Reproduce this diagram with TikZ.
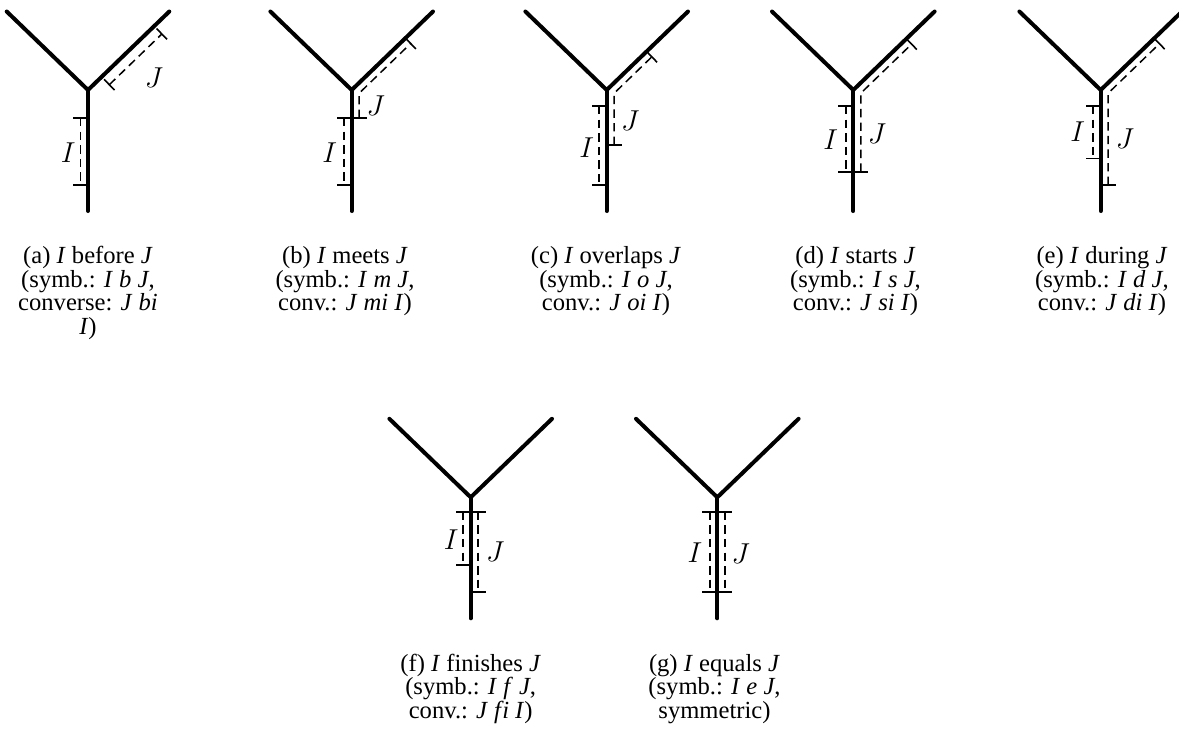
\documentclass[tikz,border=0pt]{standalone}
\usepackage{fontspec}
\setmainfont{Liberation Serif}
\usetikzlibrary{calc}
\newcommand\myit[1]{\textit{#1}}
\newcommand\drawY[3]{%
  \coordinate (#1) at (#2,#3);
  \coordinate (#1L) at ($(#1)+(-81.3,-78.5)$);
  \coordinate (#1R) at ($(#1)+(81.3,-78.5)$);
  \coordinate (#1B) at ($(#1)+(0,121)$);
  \draw[ybranch] (#1L) -- (#1) -- (#1R);
  \draw[ybranch] (#1) -- (#1B);
}
% interval on trunk: junction, offset (signed), d1 (top), d2 (bottom)
\newcommand\trunkint[4]{%
  \draw[dsh] ($(#1)+(#2,#3)$) -- ($(#1)+(#2,#4)$);
  \draw[tk] ($(#1)+(0,#3)$) -- ($(#1)+(2*#2,#3)$);
  \draw[tk] ($(#1)+(0,#4)$) -- ($(#1)+(2*#2,#4)$);
}
% interval from trunk (depth #2) up the right arm (distance #3), offset 7.5
\newcommand\bentint[3]{%
  \draw[dsh] ($(#1)+(7.5,#2)$) -- ($(#1)+(7.5,3.19)$) -- ($(#1)+#3*(u)+7.5*(n)$);
  \draw[tk] ($(#1)+(0,#2)$) -- ($(#1)+(15,#2)$);
  \draw[tk] ($(#1)+#3*(u)$) -- ($(#1)+#3*(u)+15*(n)$);
}
\begin{document}
\begin{tikzpicture}[x=0.5pt,y=-0.5pt,
  ybranch/.style={line width=2pt, line cap=round, line join=miter},
  dsh/.style={line width=0.75pt, dash pattern=on 4.2pt off 2.6pt},
  tk/.style={line width=0.8pt},
  lab/.style={inner sep=0pt, font=\fontsize{13.5}{16}\selectfont},
  captxt/.style={inner sep=0pt, anchor=base, font=\fontsize{12.3}{11.75}\selectfont}]
\useasboundingbox (0,0) rectangle (1179,740);
\coordinate (u) at (0.7195,-0.6947);
\coordinate (n) at (0.6947,0.7195);

% (a) before
\drawY{a}{88}{90}
\trunkint{a}{-7.5}{28}{95}
\draw[dsh] ($(a)+19*(u)+11*(n)$) -- ($(a)+92*(u)+11*(n)$);
\draw[tk] ($(a)+19*(u)+3.5*(n)$) -- ($(a)+19*(u)+18.5*(n)$);
\draw[tk] ($(a)+92*(u)+3.5*(n)$) -- ($(a)+92*(u)+18.5*(n)$);
\node[lab] (aI) at (68.3,152.3) {$I$};
\node[lab] (aJ) at (154,77.3) {$J$};

% (b) meets
\drawY{b}{351.7}{90}
\trunkint{b}{-7.5}{28}{95}
\bentint{b}{28}{74.7}
\node[lab] (bI) at (329.7,152.3) {$I$};
\node[lab] (bJ) at (375.7,105.7) {$J$};

% (c) overlaps
\drawY{c}{606.7}{90}
\trunkint{c}{-7.5}{16}{95}
\bentint{c}{55}{55.5}
\node[lab] (cI) at (586.7,147.3) {$I$};
\node[lab] (cJ) at (630.3,120.7) {$J$};

% (d) starts
\drawY{d}{853.3}{90}
\trunkint{d}{-7.5}{16}{81.7}
\bentint{d}{81.7}{73.8}
\node[lab] (dI) at (830.7,139.3) {$I$};
\node[lab] (dJ) at (877,133.3) {$J$};

% (e) during
\drawY{e}{1100.7}{90}
\trunkint{e}{-7.5}{16}{68.3}
\bentint{e}{95}{74.4}
\node[lab] (eI) at (1077.7,131.7) {$I$};
\node[lab] (eJ) at (1125,139) {$J$};

% (f) finishes
\drawY{f}{470.7}{497.3}
\trunkint{f}{-7.5}{14.4}{67.7}
\trunkint{f}{7.5}{14.4}{94.4}
\node[lab] (fI) at (451.3,539.3) {$I$};
\node[lab] (fJ) at (495.3,552) {$J$};

% (g) equals
\drawY{g}{717.3}{497.3}
\trunkint{g}{-7.5}{14.4}{94.4}
\trunkint{g}{7.5}{14.4}{94.4}
\node[lab] (gI) at (695,552.3) {$I$};
\node[lab] (gJ) at (740.7,553.7) {$J$};

% captions
\node[captxt] (ca1) at (88,263.3) {(a) \myit{I} before \myit{J}};
\node[captxt] (ca2) at (88,287) {(symb.: \myit{I} \myit{b} \myit{J},};
\node[captxt] (ca3) at (88,310.7) {converse: \myit{J} \myit{bi}};
\node[captxt] (ca4) at (88,334.4) {\myit{I})};

\node[captxt] (cb1) at (345,263.3) {(b) \myit{I} meets \myit{J}};
\node[captxt] (cb2) at (345,287) {(symb.: \myit{I} \myit{m} \myit{J},};
\node[captxt] (cb3) at (345,310.7) {conv.: \myit{J} \myit{mi} \myit{I})};

\node[captxt] (cc1) at (606,263.3) {(c) \myit{I} overlaps \myit{J}};
\node[captxt] (cc2) at (606,287) {(symb.: \myit{I} \myit{o} \myit{J},};
\node[captxt] (cc3) at (606,310.7) {conv.: \myit{J} \myit{oi} \myit{I})};

\node[captxt] (cd1) at (855.5,263.3) {(d) \myit{I} starts \myit{J}};
\node[captxt] (cd2) at (855.5,287) {(symb.: \myit{I} \myit{s} \myit{J},};
\node[captxt] (cd3) at (855.5,310.7) {conv.: \myit{J} \myit{si} \myit{I})};

\node[captxt] (ce1) at (1102,263.3) {(e) \myit{I} during \myit{J}};
\node[captxt] (ce2) at (1102,287) {(symb.: \myit{I} \myit{d} \myit{J},};
\node[captxt] (ce3) at (1102,310.7) {conv.: \myit{J} \myit{di} \myit{I})};

\node[captxt] (cf1) at (470.7,671) {(f) \myit{I} finishes \myit{J}};
\node[captxt] (cf2) at (470.7,694.7) {(symb.: \myit{I} \myit{f} \myit{J},};
\node[captxt] (cf3) at (470.7,718.4) {conv.: \myit{J} \myit{f\kern0.6pt i} \myit{I})};

\node[captxt] (cg1) at (714.5,671) {(g) \myit{I} equals \myit{J}};
\node[captxt] (cg2) at (714.5,694.7) {(symb.: \myit{I} \myit{e} \myit{J},};
\node[captxt] (cg3) at (714.5,718.4) {symmetric)};
\end{tikzpicture}
\end{document}
